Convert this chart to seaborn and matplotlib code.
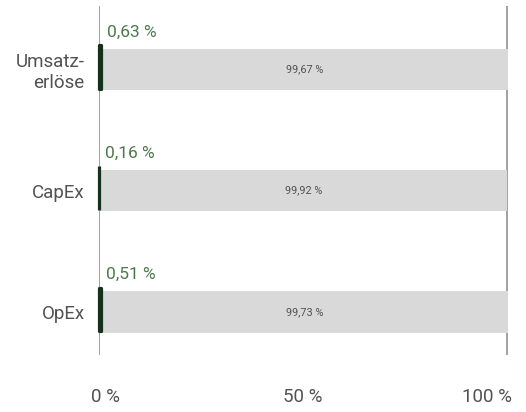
import pandas as pd
import seaborn as sns
import matplotlib.pyplot as plt
import matplotlib.transforms as mtransforms

categories = ["Umsatz-\nerlöse", "CapEx", "OpEx"]
aligned = [0.63, 0.16, 0.51]
not_aligned = [99.67, 99.92, 99.73]
tick_values = [0, 50, 100]
tick_labels = ["0 %", "50 %", "100 %"]

green = "#15301c"
label_green = "#4a7a4a"
grey_bar = "#d9d9d9"
text_grey = "#525252"

df = pd.DataFrame({"Kategorie": categories,
                   "aligned": aligned,
                   "not_aligned": not_aligned})

sns.set_style("white")
plt.rcParams["font.family"] = ["Roboto", "DejaVu Sans"]

fig = plt.figure(figsize=(5.26, 4.12), dpi=100)
ax = fig.add_axes([0.1873, 0.1383, 0.9677 - 0.1873, 0.9854 - 0.1383])

# grey remainder bars, stacked after the aligned share
sns.barplot(data=df, x="not_aligned", y="Kategorie", orient="h",
            color=grey_bar, width=0.34, left=df["aligned"], ax=ax,
            saturation=1, linewidth=0)
n_grey = len(ax.patches)

# aligned share (dark green)
sns.barplot(data=df, x="aligned", y="Kategorie", orient="h",
            color=green, width=0.34, ax=ax, saturation=1,
            edgecolor=green, linewidth=2.3)
for p in ax.patches[n_grey:]:
    p.set_y(p.get_y() - 0.03)
    p.set_height(p.get_height() + 0.02)
    p.set_joinstyle("round")
    p.set_clip_on(False)

for i, (a, na) in enumerate(zip(aligned, not_aligned)):
    ax.annotate(f"{a:.2f} %".replace(".", ","), xy=(a, i - 0.17),
                xytext=(4, 12), textcoords="offset points",
                ha="left", va="center", fontsize=12.5, color=label_green)
    ax.text(a + na / 2, i, f"{na:.2f} %".replace(".", ","),
            ha="center", va="center", fontsize=7.8, color=text_grey)

ax.set_xlim(0, 100.5)
ax.set_ylim(2.355, -0.52)
ax.set_xlabel("")
ax.set_ylabel("")
sns.despine(ax=ax, left=True, bottom=True)

for v in (tick_values[0], tick_values[-1]):
    ax.axvline(v, color="#9a9a9a", linewidth=1.3, zorder=0)

ax.set_xticks(tick_values)
ax.set_xticklabels(tick_labels, fontsize=13.5, color=text_grey)
ax.tick_params(axis="x", length=0, pad=24)
ax.tick_params(axis="y", length=0, pad=10)
for lab in ax.get_yticklabels():
    lab.set_fontsize(13.5)
    lab.set_color(text_grey)
    lab.set_horizontalalignment("right")
    lab.set_multialignment("right")

xl = ax.get_xticklabels()
xl[0].set_transform(xl[0].get_transform() +
                    mtransforms.ScaledTranslation(7 / 100, 0, fig.dpi_scale_trans))
xl[-1].set_transform(xl[-1].get_transform() +
                     mtransforms.ScaledTranslation(-20 / 100, 0, fig.dpi_scale_trans))

fig.savefig("out.png", dpi=100)
